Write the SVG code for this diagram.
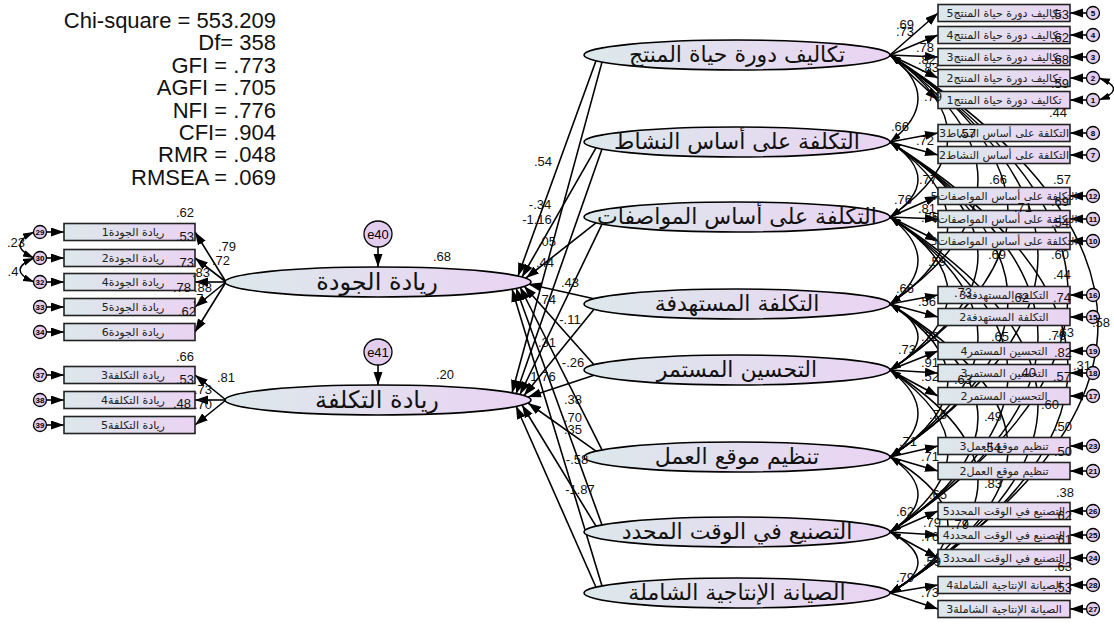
<svg xmlns="http://www.w3.org/2000/svg" width="1114" height="633" viewBox="0 0 1114 633">
<defs>
<linearGradient id="g" x1="0" y1="0" x2="1" y2="0">
<stop offset="0" stop-color="#dce8eb"/>
<stop offset="1" stop-color="#ead3f3"/>
</linearGradient>
<marker id="a" markerUnits="userSpaceOnUse" markerWidth="14" markerHeight="10" refX="13" refY="4.5" orient="auto">
<path d="M0,0 L13,4.5 L0,9 z" fill="#000"/>
</marker>
<marker id="c" markerUnits="userSpaceOnUse" markerWidth="12" markerHeight="8" refX="11" refY="3.5" orient="auto-start-reverse">
<path d="M0,0 L11,3.5 L0,7 z" fill="#000"/>
</marker>
</defs>
<style>
.lat{fill:url(#g);stroke:#000;stroke-width:1.6}
.box{fill:url(#g);stroke:#222;stroke-width:1.6}
.err{fill:#e3cdee;stroke:#000;stroke-width:1.3}
.ln{stroke:#000;stroke-width:1.6;fill:none;marker-end:url(#a)}
.cv{stroke:#000;stroke-width:1.5;fill:none;marker-start:url(#c);marker-end:url(#c)}
.num{font-family:"Liberation Sans",Arial,sans-serif;font-size:13px;fill:#111;text-anchor:middle}
.st{font-family:"Liberation Sans",Arial,sans-serif;font-size:22px;fill:#111;text-anchor:end}
.lt{font-family:"DejaVu Sans",sans-serif;font-size:22px;fill:#111;text-anchor:middle}
.bt{font-family:"DejaVu Sans",sans-serif;font-size:11px;fill:#222;text-anchor:middle}
.et{font-family:"Liberation Sans",Arial,sans-serif;font-size:8px;font-weight:bold;fill:#000;text-anchor:middle}
.e4{font-family:"Liberation Sans",Arial,sans-serif;font-size:13px;fill:#000;text-anchor:middle}
</style>

<g id="fit-stats">
<text class="st" x="276" y="28">Chi-square = 553.209</text>
<text class="st" x="276" y="50.4">Df= 358</text>
<text class="st" x="276" y="72.8">GFI = .773</text>
<text class="st" x="276" y="95.2">AGFI = .705</text>
<text class="st" x="276" y="117.6">NFI = .776</text>
<text class="st" x="276" y="140">CFI= .904</text>
<text class="st" x="276" y="162.4">RMR = .048</text>
<text class="st" x="276" y="184.8">RMSEA = .069</text>
</g>

<g id="connectors">
<path class="ln" d="M596,60.8 L518,276"/>
<path class="ln" d="M596,147.8 L522,277"/>
<path class="ln" d="M596,222.8 L526,278"/>
<path class="ln" d="M594,298.7 L528,284"/>
<path class="ln" d="M594,364.7 L524,286"/>
<path class="ln" d="M602,449.9 L520,287"/>
<path class="ln" d="M602,524.9 L516,288"/>
<path class="ln" d="M602,585.9 L512,289"/>
<path class="ln" d="M602,62.1 L512,393"/>
<path class="ln" d="M602,149.1 L516,394"/>
<path class="ln" d="M602,224.1 L520,394.5"/>
<path class="ln" d="M594,309.3 L524,395.5"/>
<path class="ln" d="M594,375.3 L528,397"/>
<path class="ln" d="M596,451.2 L528,403"/>
<path class="ln" d="M596,526.2 L522,405"/>
<path class="ln" d="M596,587.2 L516,406"/>
<path class="ln" d="M378,247 L378,267"/>
<path class="ln" d="M378,365 L378,385"/>
<path class="ln" d="M226,282 L195,232"/>
<path class="ln" d="M226,282 L195,258"/>
<path class="ln" d="M226,282 L195,282"/>
<path class="ln" d="M226,282 L195,307"/>
<path class="ln" d="M226,282 L195,332"/>
<path class="ln" d="M226,400 L195,375"/>
<path class="ln" d="M226,400 L195,400"/>
<path class="ln" d="M226,400 L195,425"/>
<path class="ln" d="M46.5,232 L64,232"/>
<path class="ln" d="M46.5,258 L64,258"/>
<path class="ln" d="M46.5,282 L64,282"/>
<path class="ln" d="M46.5,307 L64,307"/>
<path class="ln" d="M46.5,332 L64,332"/>
<path class="ln" d="M46.5,375 L64,375"/>
<path class="ln" d="M46.5,400 L64,400"/>
<path class="ln" d="M46.5,425 L64,425"/>
<path class="cv" d="M34,232 Q6,245 34,258"/>
<path class="cv" d="M34,258 Q6,270 34,282"/>
<path class="ln" d="M890,55 L938,13"/>
<path class="ln" d="M890,55 L938,35"/>
<path class="ln" d="M890,55 L938,57"/>
<path class="ln" d="M890,55 L938,78"/>
<path class="ln" d="M890,55 L938,100"/>
<path class="ln" d="M890,142 L938,133"/>
<path class="ln" d="M890,142 L938,155"/>
<path class="ln" d="M890,217 L938,196"/>
<path class="ln" d="M890,217 L938,219"/>
<path class="ln" d="M890,217 L938,241"/>
<path class="ln" d="M890,304 L938,295"/>
<path class="ln" d="M890,304 L938,317"/>
<path class="ln" d="M890,370 L938,351"/>
<path class="ln" d="M890,370 L938,373"/>
<path class="ln" d="M890,370 L938,396"/>
<path class="ln" d="M890,457 L938,446"/>
<path class="ln" d="M890,457 L938,471"/>
<path class="ln" d="M890,532 L938,511"/>
<path class="ln" d="M890,532 L938,535"/>
<path class="ln" d="M890,532 L938,558"/>
<path class="ln" d="M890,593 L938,585"/>
<path class="ln" d="M890,593 L938,609"/>
<path class="ln" d="M1086.5,13 L1070,13"/>
<path class="ln" d="M1086.5,35 L1070,35"/>
<path class="ln" d="M1086.5,57 L1070,57"/>
<path class="ln" d="M1086.5,78 L1070,78"/>
<path class="ln" d="M1086.5,100 L1070,100"/>
<path class="ln" d="M1086.5,133 L1070,133"/>
<path class="ln" d="M1086.5,155 L1070,155"/>
<path class="ln" d="M1086.5,196 L1070,196"/>
<path class="ln" d="M1086.5,219 L1070,219"/>
<path class="ln" d="M1086.5,241 L1070,241"/>
<path class="ln" d="M1086.5,295 L1070,295"/>
<path class="ln" d="M1086.5,317 L1070,317"/>
<path class="ln" d="M1086.5,351 L1070,351"/>
<path class="ln" d="M1086.5,373 L1070,373"/>
<path class="ln" d="M1086.5,396 L1070,396"/>
<path class="ln" d="M1086.5,446 L1070,446"/>
<path class="ln" d="M1086.5,471 L1070,471"/>
<path class="ln" d="M1086.5,511 L1070,511"/>
<path class="ln" d="M1086.5,535 L1070,535"/>
<path class="ln" d="M1086.5,558 L1070,558"/>
<path class="ln" d="M1086.5,585 L1070,585"/>
<path class="ln" d="M1086.5,609 L1070,609"/>
<path class="cv" d="M1099,78 Q1128,89 1099,100"/>
<path class="cv" d="M890,55 Q946,98.5 890,142"/>
<path class="cv" d="M890,142 Q946,179.5 890,217"/>
<path class="cv" d="M890,217 Q946,260.5 890,304"/>
<path class="cv" d="M890,304 Q946,337 890,370"/>
<path class="cv" d="M890,370 Q946,413.5 890,457"/>
<path class="cv" d="M890,457 Q946,494.5 890,532"/>
<path class="cv" d="M890,532 Q946,562.5 890,593"/>
<path class="cv" d="M890,55 Q1006,136 890,217"/>
<path class="cv" d="M890,142 Q1006,223 890,304"/>
<path class="cv" d="M890,217 Q1006,293.5 890,370"/>
<path class="cv" d="M890,304 Q1006,380.5 890,457"/>
<path class="cv" d="M890,370 Q1006,451 890,532"/>
<path class="cv" d="M890,457 Q1006,525 890,593"/>
<path class="cv" d="M890,55 Q1066,179.5 890,304"/>
<path class="cv" d="M890,142 Q1066,256 890,370"/>
<path class="cv" d="M890,217 Q1066,337 890,457"/>
<path class="cv" d="M890,304 Q1066,418 890,532"/>
<path class="cv" d="M890,370 Q1066,481.5 890,593"/>
<path class="cv" d="M890,55 Q1126,212.5 890,370"/>
<path class="cv" d="M890,142 Q1126,299.5 890,457"/>
<path class="cv" d="M890,217 Q1126,374.5 890,532"/>
<path class="cv" d="M890,304 Q1126,448.5 890,593"/>
<path class="cv" d="M890,55 Q1186,256 890,457"/>
<path class="cv" d="M890,142 Q1186,337 890,532"/>
<path class="cv" d="M890,217 Q1186,405 890,593"/>
<path class="cv" d="M890,55 Q1246,293.5 890,532"/>
<path class="cv" d="M890,142 Q1246,367.5 890,593"/>
<path class="cv" d="M890,55 Q1306,324 890,593"/>
</g>

<g id="n-quality">
<ellipse class="lat" cx="378" cy="282" rx="153" ry="15"/>
<text class="lt" x="377" y="290" style="font-size:24px">ريادة الجودة</text>
</g>
<g id="n-cost">
<ellipse class="lat" cx="378" cy="400" rx="153" ry="15"/>
<text class="lt" x="377" y="408" style="font-size:24px">ريادة التكلفة</text>
</g>
<g id="n-e40">
<ellipse class="err" cx="378" cy="234" rx="14" ry="13"/>
<text class="e4" x="378" y="239">e40</text>
</g>
<g id="n-e41">
<ellipse class="err" cx="378" cy="352" rx="14" ry="13"/>
<text class="e4" x="378" y="357">e41</text>
</g>

<g id="n-L0"><ellipse class="lat" cx="737" cy="55" rx="153" ry="15"/><text class="lt" x="737" y="62">تكاليف دورة حياة  المنتج</text></g>
<g id="n-L1"><ellipse class="lat" cx="737" cy="142" rx="153" ry="15"/><text class="lt" x="737" y="149">التكلفة على أساس النشاط</text></g>
<g id="n-L2"><ellipse class="lat" cx="737" cy="217" rx="153" ry="15"/><text class="lt" x="737" y="224">التكلفة على أساس المواصفات</text></g>
<g id="n-L3"><ellipse class="lat" cx="737" cy="304" rx="153" ry="15"/><text class="lt" x="737" y="311">التكلفة المستهدفة</text></g>
<g id="n-L4"><ellipse class="lat" cx="737" cy="370" rx="153" ry="15"/><text class="lt" x="737" y="377">التحسين المستمر</text></g>
<g id="n-L5"><ellipse class="lat" cx="737" cy="457" rx="153" ry="15"/><text class="lt" x="737" y="464">تنظيم موقع العمل</text></g>
<g id="n-L6"><ellipse class="lat" cx="737" cy="532" rx="153" ry="15"/><text class="lt" x="737" y="539">التصنيع في الوقت المحدد</text></g>
<g id="n-L7"><ellipse class="lat" cx="737" cy="593" rx="153" ry="15"/><text class="lt" x="737" y="600">الصيانة الإنتاجية الشاملة</text></g>

<g id="n-q1"><rect class="box" x="64" y="223.5" width="131" height="17"/><text class="bt" x="133" y="236">ريادة الجودة1</text><circle class="err" cx="40" cy="232" r="6.5"/><text class="et" x="40" y="235">29</text></g>
<g id="n-q2"><rect class="box" x="64" y="249.5" width="131" height="17"/><text class="bt" x="133" y="262">ريادة الجودة2</text><circle class="err" cx="40" cy="258" r="6.5"/><text class="et" x="40" y="261">30</text></g>
<g id="n-q4"><rect class="box" x="64" y="273.5" width="131" height="17"/><text class="bt" x="133" y="286">ريادة الجودة4</text><circle class="err" cx="40" cy="282" r="6.5"/><text class="et" x="40" y="285">32</text></g>
<g id="n-q5"><rect class="box" x="64" y="298.5" width="131" height="17"/><text class="bt" x="133" y="311">ريادة الجودة5</text><circle class="err" cx="40" cy="307" r="6.5"/><text class="et" x="40" y="310">33</text></g>
<g id="n-q6"><rect class="box" x="64" y="323.5" width="131" height="17"/><text class="bt" x="133" y="336">ريادة الجودة6</text><circle class="err" cx="40" cy="332" r="6.5"/><text class="et" x="40" y="335">34</text></g>
<g id="n-c3"><rect class="box" x="64" y="366.5" width="131" height="17"/><text class="bt" x="133" y="379">ريادة التكلفة3</text><circle class="err" cx="40" cy="375" r="6.5"/><text class="et" x="40" y="378">37</text></g>
<g id="n-c4"><rect class="box" x="64" y="391.5" width="131" height="17"/><text class="bt" x="133" y="404">ريادة التكلفة4</text><circle class="err" cx="40" cy="400" r="6.5"/><text class="et" x="40" y="403">38</text></g>
<g id="n-c5"><rect class="box" x="64" y="416.5" width="131" height="17"/><text class="bt" x="133" y="429">ريادة التكلفة5</text><circle class="err" cx="40" cy="425" r="6.5"/><text class="et" x="40" y="428">39</text></g>

<g id="n-r5"><rect class="box" x="938" y="4.5" width="132" height="17"/><text class="bt" x="1004" y="17">تكاليف دورة حياة  المنتج5</text><circle class="err" cx="1093" cy="13" r="6.5"/><text class="et" x="1093" y="16">5</text></g>
<g id="n-r4"><rect class="box" x="938" y="26.5" width="132" height="17"/><text class="bt" x="1004" y="39">تكاليف دورة حياة  المنتج4</text><circle class="err" cx="1093" cy="35" r="6.5"/><text class="et" x="1093" y="38">4</text></g>
<g id="n-r3"><rect class="box" x="938" y="48.5" width="132" height="17"/><text class="bt" x="1004" y="61">تكاليف دورة حياة  المنتج3</text><circle class="err" cx="1093" cy="57" r="6.5"/><text class="et" x="1093" y="60">3</text></g>
<g id="n-r2"><rect class="box" x="938" y="69.5" width="132" height="17"/><text class="bt" x="1004" y="82">تكاليف دورة حياة  المنتج2</text><circle class="err" cx="1093" cy="78" r="6.5"/><text class="et" x="1093" y="81">2</text></g>
<g id="n-r1"><rect class="box" x="938" y="91.5" width="132" height="17"/><text class="bt" x="1004" y="104">تكاليف دورة حياة  المنتج1</text><circle class="err" cx="1093" cy="100" r="6.5"/><text class="et" x="1093" y="103">1</text></g>
<g id="n-a3"><rect class="box" x="938" y="124.5" width="132" height="17"/><text class="bt" x="1004" y="137">التكلفة على أساس النشاط3</text><circle class="err" cx="1093" cy="133" r="6.5"/><text class="et" x="1093" y="136">8</text></g>
<g id="n-a2"><rect class="box" x="938" y="146.5" width="132" height="17"/><text class="bt" x="1004" y="159">التكلفة على أساس النشاط2</text><circle class="err" cx="1093" cy="155" r="6.5"/><text class="et" x="1093" y="158">7</text></g>
<g id="n-s5"><rect class="box" x="938" y="187.5" width="132" height="17"/><text class="bt" x="1004" y="200">التكلفة على أساس المواصفات5</text><circle class="err" cx="1093" cy="196" r="6.5"/><text class="et" x="1093" y="199">12</text></g>
<g id="n-s4"><rect class="box" x="938" y="210.5" width="132" height="17"/><text class="bt" x="1004" y="223">التكلفة على أساس المواصفات4</text><circle class="err" cx="1093" cy="219" r="6.5"/><text class="et" x="1093" y="222">11</text></g>
<g id="n-s3"><rect class="box" x="938" y="232.5" width="132" height="17"/><text class="bt" x="1004" y="245">التكلفة على أساس المواصفات3</text><circle class="err" cx="1093" cy="241" r="6.5"/><text class="et" x="1093" y="244">10</text></g>
<g id="n-t3"><rect class="box" x="938" y="286.5" width="132" height="17"/><text class="bt" x="1004" y="299">التكلفة المستهدفة3</text><circle class="err" cx="1093" cy="295" r="6.5"/><text class="et" x="1093" y="298">16</text></g>
<g id="n-t2"><rect class="box" x="938" y="308.5" width="132" height="17"/><text class="bt" x="1004" y="321">التكلفة المستهدفة2</text><circle class="err" cx="1093" cy="317" r="6.5"/><text class="et" x="1093" y="320">15</text></g>
<g id="n-i4"><rect class="box" x="938" y="342.5" width="132" height="17"/><text class="bt" x="1004" y="355">التحسين المستمر4</text><circle class="err" cx="1093" cy="351" r="6.5"/><text class="et" x="1093" y="354">19</text></g>
<g id="n-i3"><rect class="box" x="938" y="364.5" width="132" height="17"/><text class="bt" x="1004" y="377">التحسين المستمر3</text><circle class="err" cx="1093" cy="373" r="6.5"/><text class="et" x="1093" y="376">18</text></g>
<g id="n-i2"><rect class="box" x="938" y="387.5" width="132" height="17"/><text class="bt" x="1004" y="400">التحسين المستمر2</text><circle class="err" cx="1093" cy="396" r="6.5"/><text class="et" x="1093" y="399">17</text></g>
<g id="n-w3"><rect class="box" x="938" y="437.5" width="132" height="17"/><text class="bt" x="1004" y="450">تنظيم موقع العمل3</text><circle class="err" cx="1093" cy="446" r="6.5"/><text class="et" x="1093" y="449">23</text></g>
<g id="n-w2"><rect class="box" x="938" y="462.5" width="132" height="17"/><text class="bt" x="1004" y="475">تنظيم موقع العمل2</text><circle class="err" cx="1093" cy="471" r="6.5"/><text class="et" x="1093" y="474">21</text></g>
<g id="n-j5"><rect class="box" x="938" y="502.5" width="132" height="17"/><text class="bt" x="1004" y="515">التصنيع في الوقت المحدد5</text><circle class="err" cx="1093" cy="511" r="6.5"/><text class="et" x="1093" y="514">26</text></g>
<g id="n-j4"><rect class="box" x="938" y="526.5" width="132" height="17"/><text class="bt" x="1004" y="539">التصنيع في الوقت المحدد4</text><circle class="err" cx="1093" cy="535" r="6.5"/><text class="et" x="1093" y="538">25</text></g>
<g id="n-j3"><rect class="box" x="938" y="549.5" width="132" height="17"/><text class="bt" x="1004" y="562">التصنيع في الوقت المحدد3</text><circle class="err" cx="1093" cy="558" r="6.5"/><text class="et" x="1093" y="561">24</text></g>
<g id="n-m4"><rect class="box" x="938" y="576.5" width="132" height="17"/><text class="bt" x="1004" y="589">الصيانة الإنتاجية الشاملة4</text><circle class="err" cx="1093" cy="585" r="6.5"/><text class="et" x="1093" y="588">28</text></g>
<g id="n-m3"><rect class="box" x="938" y="600.5" width="132" height="17"/><text class="bt" x="1004" y="613">الصيانة الإنتاجية الشاملة3</text><circle class="err" cx="1093" cy="609" r="6.5"/><text class="et" x="1093" y="612">27</text></g>

<g id="labels">
<text class="num" x="442" y="261">.68</text>
<text class="num" x="445" y="379">.20</text>
<text class="num" x="16" y="247">.23</text>
<text class="num" x="13" y="276">.4</text>
<text class="num" x="185" y="217">.62</text>
<text class="num" x="185" y="241">.53</text>
<text class="num" x="227" y="251">.79</text>
<text class="num" x="221" y="265">.72</text>
<text class="num" x="185" y="267">.73</text>
<text class="num" x="201" y="277">.83</text>
<text class="num" x="182" y="292">.78</text>
<text class="num" x="203" y="292">.88</text>
<text class="num" x="198" y="303">.7</text>
<text class="num" x="187" y="316">.62</text>
<text class="num" x="185" y="361">.66</text>
<text class="num" x="226" y="382">.81</text>
<text class="num" x="185" y="384">.53</text>
<text class="num" x="203" y="394">.73</text>
<text class="num" x="182" y="408">.48</text>
<text class="num" x="203" y="409">.70</text>
<text class="num" x="543" y="166">.54</text>
<text class="num" x="540" y="209">-.34</text>
<text class="num" x="537" y="224">-1.16</text>
<text class="num" x="547" y="246">.05</text>
<text class="num" x="545" y="267">.44</text>
<text class="num" x="570" y="287">.43</text>
<text class="num" x="547" y="304">.74</text>
<text class="num" x="570" y="324">-.11</text>
<text class="num" x="547" y="347">.31</text>
<text class="num" x="573" y="367">-.26</text>
<text class="num" x="543" y="381">1.76</text>
<text class="num" x="573" y="404">.38</text>
<text class="num" x="573" y="422">.70</text>
<text class="num" x="573" y="434">.35</text>
<text class="num" x="577" y="464">-.58</text>
<text class="num" x="580" y="494">-1.87</text>
<text class="num" x="905" y="29">.69</text>
<text class="num" x="905" y="36">.73</text>
<text class="num" x="925" y="52">.78</text>
<text class="num" x="927" y="64">.82</text>
<text class="num" x="930" y="72">.83</text>
<text class="num" x="933" y="101">.79</text>
<text class="num" x="1060" y="19">.53</text>
<text class="num" x="1060" y="42">.62</text>
<text class="num" x="1060" y="64">.68</text>
<text class="num" x="1060" y="88">.59</text>
<text class="num" x="1058" y="117">.44</text>
<text class="num" x="900" y="131">.66</text>
<text class="num" x="925" y="145">.72</text>
<text class="num" x="967" y="138">.57</text>
<text class="num" x="928" y="184">.77</text>
<text class="num" x="998" y="184">.66</text>
<text class="num" x="1062" y="184">.57</text>
<text class="num" x="903" y="204">.76</text>
<text class="num" x="927" y="213">.81</text>
<text class="num" x="930" y="222">.75</text>
<text class="num" x="1023" y="212">.71</text>
<text class="num" x="1060" y="206">.69</text>
<text class="num" x="1060" y="227">.54</text>
<text class="num" x="937" y="266">.59</text>
<text class="num" x="997" y="259">.69</text>
<text class="num" x="1060" y="259">.60</text>
<text class="num" x="1062" y="279">.44</text>
<text class="num" x="905" y="293">.66</text>
<text class="num" x="927" y="306">.56</text>
<text class="num" x="963" y="297">.73</text>
<text class="num" x="1020" y="302">.62</text>
<text class="num" x="1062" y="302">.74</text>
<text class="num" x="930" y="341">.72</text>
<text class="num" x="1000" y="341">.65</text>
<text class="num" x="1057" y="340">.76</text>
<text class="num" x="1065" y="337">.63</text>
<text class="num" x="907" y="354">.73</text>
<text class="num" x="1063" y="357">.82</text>
<text class="num" x="930" y="367">.91</text>
<text class="num" x="1101" y="327">.58</text>
<text class="num" x="1082" y="370">.31</text>
<text class="num" x="930" y="381">.52</text>
<text class="num" x="963" y="384">.63</text>
<text class="num" x="1027" y="377">.40</text>
<text class="num" x="1062" y="381">.57</text>
<text class="num" x="1050" y="409">.60</text>
<text class="num" x="938" y="419">.76</text>
<text class="num" x="993" y="421">.49</text>
<text class="num" x="1063" y="431">.50</text>
<text class="num" x="908" y="446">.71</text>
<text class="num" x="992" y="452">.54</text>
<text class="num" x="1063" y="456">.50</text>
<text class="num" x="930" y="461">.71</text>
<text class="num" x="993" y="488">.83</text>
<text class="num" x="1065" y="497">.38</text>
<text class="num" x="938" y="499">.65</text>
<text class="num" x="905" y="516">.62</text>
<text class="num" x="1063" y="520">.62</text>
<text class="num" x="932" y="527">.79</text>
<text class="num" x="960" y="529">.79</text>
<text class="num" x="930" y="541">.76</text>
<text class="num" x="1063" y="544">.61</text>
<text class="num" x="932" y="566">.59</text>
<text class="num" x="1063" y="571">.63</text>
<text class="num" x="905" y="582">.79</text>
<text class="num" x="930" y="597">.73</text>
<text class="num" x="1063" y="592">.53</text>
</g>
</svg>
